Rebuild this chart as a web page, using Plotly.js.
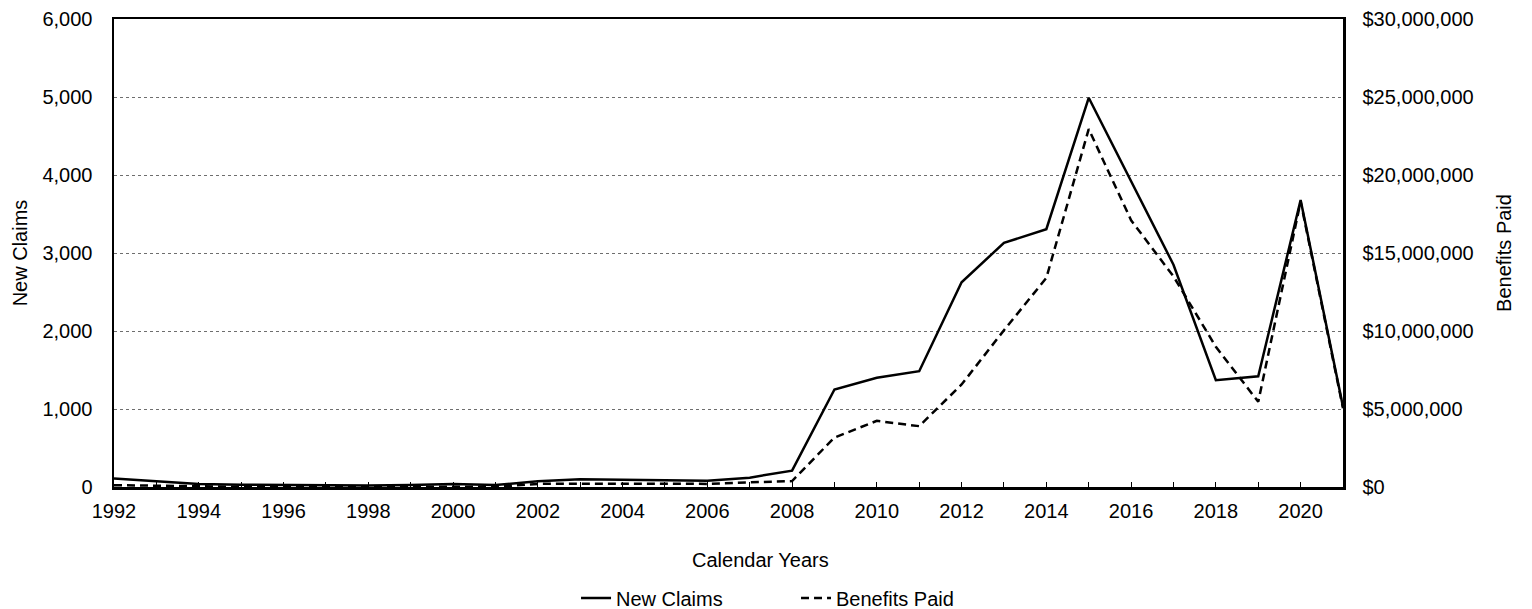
<!DOCTYPE html>
<html>
<head>
<meta charset="utf-8">
<script src="https://cdn.plot.ly/plotly-3.0.1.min.js"></script>
<style>
html,body{margin:0;padding:0;background:#fff;}
#chart{width:1532px;height:609px;}
</style>
</head>
<body>
<div id="chart"></div>
<script>
var years = [1992,1993,1994,1995,1996,1997,1998,1999,2000,2001,2002,2003,2004,2005,2006,2007,2008,2009,2010,2011,2012,2013,2014,2015,2016,2017,2018,2019,2020,2021];
var newClaims = [110,75,40,30,25,20,18,25,40,25,75,100,95,92,80,120,210,1250,1400,1485,2625,3130,3305,4990,3910,2850,1370,1420,3680,1030];
var benefitsPaid = [120000,80000,20000,10000,10000,5000,5000,10000,30000,10000,200000,230000,215000,210000,200000,300000,380000,3170000,4240000,3900000,6570000,10050000,13400000,22940000,17100000,13500000,8990000,5460000,18300000,5050000];
var xTitle = 'Calendar Years';

var fontFam = 'Arial, "Liberation Sans", sans-serif';
var FS = 20;
var traces = [
  {x: years, y: newClaims, name: 'New Claims', type: 'scatter', mode: 'lines',
   line: {color: '#000', width: 2.5}, yaxis: 'y'},
  {x: years, y: benefitsPaid, name: 'Benefits Paid', type: 'scatter', mode: 'lines',
   line: {color: '#000', width: 2.5, dash: '8px,5px'}, yaxis: 'y2'}
];

var layout = {
  width: 1532, height: 609,
  paper_bgcolor: '#fff', plot_bgcolor: '#fff',
  font: {family: fontFam, size: FS, color: '#000'},
  margin: {l: 113.5, r: 189, t: 19, b: 122},
  showlegend: true,
  legend: {orientation: 'h', xref: 'container', yref: 'container',
           x: 0.376, xanchor: 'left', y: 0.018, yanchor: 'middle',
           font: {size: FS}, entrywidth: 175, entrywidthmode: 'pixels', tracegroupgap: 0},
  xaxis: {
    range: [1992, 2021], tick0: 1992, dtick: 2, tickmode: 'linear',
    ticks: 'inside', ticklen: 5, tickcolor: '#000', tickwidth: 1,
    minor: {dtick: 1, ticks: 'inside', ticklen: 5, tickcolor: '#000', tickwidth: 1},
    showline: true, linecolor: '#000', linewidth: 2.5, mirror: true,
    showgrid: false, zeroline: false, ticklabelstandoff: 4,
    tickfont: {size: FS}
  },
  yaxis: {
    range: [0, 6000], dtick: 1000, tickformat: ',d',
    showline: true, linecolor: '#000', linewidth: 2.5,
    showgrid: true, gridcolor: '#6e6e6e', griddash: 'dot', gridwidth: 1,
    zeroline: false, ticks: '', ticklabelstandoff: 15,
    tickfont: {size: FS},
    title: {text: 'New Claims', font: {size: FS}, standoff: 10}
  },
  yaxis2: {
    range: [0, 30000000], dtick: 5000000, tickformat: ',d', tickprefix: '$',
    overlaying: 'y', side: 'right',
    showline: true, linecolor: '#000', linewidth: 2.5,
    showgrid: false, zeroline: false, ticks: '', ticklabelstandoff: 13,
    tickfont: {size: FS},
    title: {text: 'Benefits Paid', font: {size: FS}, standoff: 25}
  },
  annotations: [
    {text: xTitle, xref: 'paper', yref: 'paper', x: 0.526, y: -0.157,
     xanchor: 'center', yanchor: 'middle', showarrow: false, font: {size: FS}}
  ]
};

Plotly.newPlot('chart', traces, layout, {displayModeBar: false, staticPlot: true});
</script>
</body>
</html>
